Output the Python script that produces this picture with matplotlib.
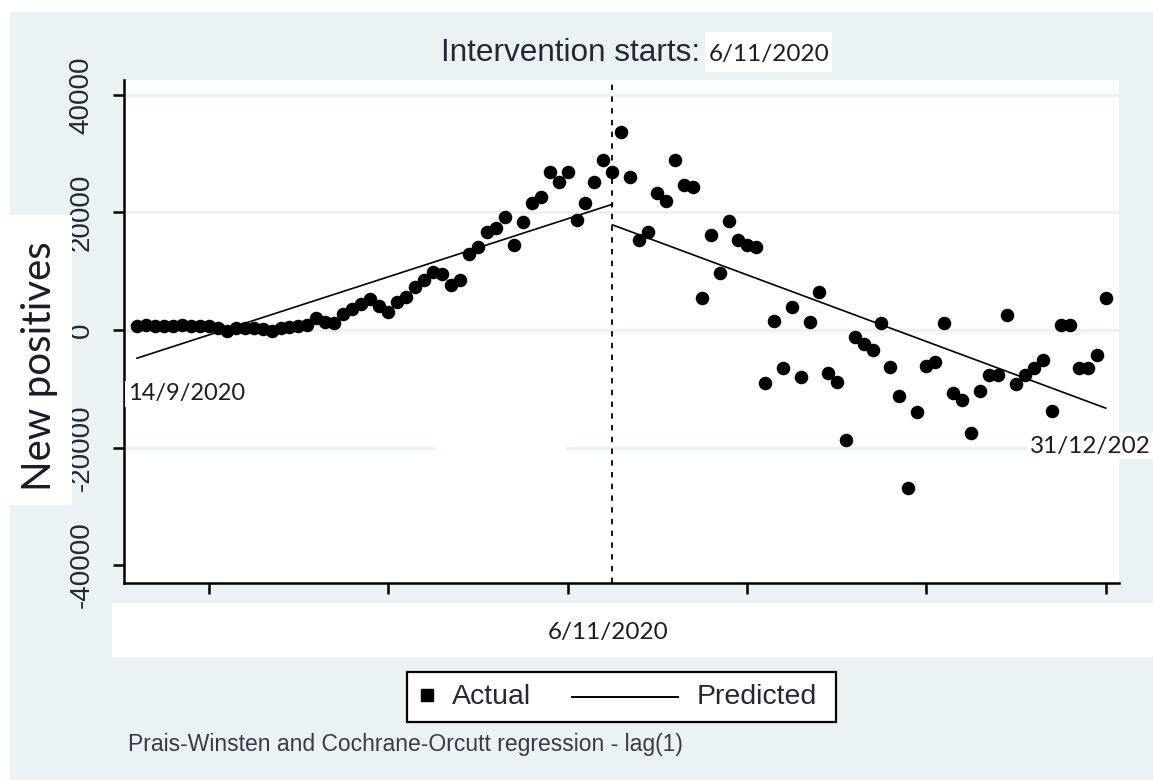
import numpy as np
import matplotlib.pyplot as plt
from matplotlib.patches import Rectangle
from matplotlib.lines import Line2D

# ---- data (day 0 = 14/9/2020, day 108 = 31/12/2020)
days = np.arange(0, 109)
actual = [
    600, 800, 700, 600, 700, 800, 700, 600, 700,            # 0-8
    300, -200, 300, 400, 300, 200,                          # 9-14
    -200, 400, 500, 700, 900,                               # 15-19
    2000, 1300, 1200, 2800, 3500, 4500, 5300, 4000, 3100,    # 20-28
    4800, 5600, 7300, 8500, 9900, 9500, 7700, 8500,          # 29-36
    13000, 14200, 16700, 17300, 19300, 14500, 18400,         # 37-43
    21600, 22700, 26900, 25200, 26900, 18700, 21600,         # 44-50
    25200, 28900, 26900,                                     # 51-53
    33700, 26000, 15300, 16700, 23300, 22000, 28900,         # 54-60
    24700, 24300, 5400, 16200, 9700, 18600, 15300,           # 61-67
    14500, 14100, -9000, 1500, -6500, 3900, -8000,           # 68-74
    1400, 6500, -7300, -8800, -18700, -1200, -2300,          # 75-81
    -3400, 1200, -6300, -11200, -26900, -14000, -6100,       # 82-88
    -5400, 1200, -10700, -11900, -17500, -10400, -7700,      # 89-95
    -7700, 2600, -9200, -7700, -6500, -5100, -13800,         # 96-102
    900, 900, -6500, -6500, -4300, 5400,                     # 103-108
]
pred_pre_days = [0, 53]
pred_pre = [-4800, 21400]
pred_post_days = [53, 108]
pred_post = [17900, -13300]
interv_day = 53

yticks = [-40000, -20000, 0, 20000, 40000]
xticks = [8, 28, 48, 68, 88, 108]
grid_vals = [40000, 20000, 0]

W, H = 1153, 783
bg = '#eaf2f3'
stata_txt = '#262636'
stata_font = ['Liberation Sans', 'DejaVu Sans']
word_font = ['Lato', 'DejaVu Sans']


def fx(px):
    return px / W


def fy(py):
    return 1 - py / H


fig = plt.figure(figsize=(W / 100, H / 100), dpi=100, facecolor='white')


def box(x0, y0, x1, y1, color='white', z=1):
    fig.add_artist(Rectangle((fx(x0), fy(y1)), (x1 - x0) / W, (y1 - y0) / H,
                             transform=fig.transFigure, facecolor=color,
                             edgecolor='none', zorder=z))


# outer stata panel
box(10, 12, W, 780, color=bg, z=-5)

ax = fig.add_axes([fx(124), fy(583), (1119 - 124) / W, (583 - 80) / H])
ax.set_facecolor('white')
ax.set_xlim(-1.45, 109.48)
ax.set_ylim(-43060, 42550)

for v in grid_vals:
    ax.axhline(v, color=bg, lw=2.2, zorder=0)
ax.hlines(-20000, -1.45, -1.45 + 0.3126 * 110.93, color=bg, lw=2.2, zorder=0)
ax.hlines(-20000, -1.45 + 0.4432 * 110.93, 109.48, color=bg, lw=2.2, zorder=0)

ax.scatter(days, actual, s=95, c='black', marker='o', linewidths=0, zorder=3)
ax.plot(pred_pre_days, pred_pre, color='black', lw=1.2, zorder=2)
ax.plot(pred_post_days, pred_post, color='black', lw=1.2, zorder=2)
ax.axvline(interv_day, color='black', lw=1.3, ls=(0, (3, 3.5)), zorder=2)

for s in ['top', 'right']:
    ax.spines[s].set_visible(False)
for s in ['left', 'bottom']:
    ax.spines[s].set_linewidth(1.8)

ax.set_yticks(yticks)
ax.set_yticklabels([str(v) for v in yticks], fontsize=20, family=stata_font,
                   color=stata_txt, rotation=90, va='center')
ax.set_xticks(xticks)
ax.set_xticklabels([])
ax.tick_params(axis='both', direction='out', length=8, width=1.8, color='black')
ax.tick_params(axis='y', pad=13)

# y label on a pasted white box
box(10, 215, 72, 505)
fig.text(fx(40), fy(366), 'New positives', rotation=90, ha='center', va='center',
         fontsize=29, family=word_font, color='#1c1c28', zorder=2)

# x label box
box(112, 603, W, 657)
fig.text(fx(608), fy(632), '6/11/2020', ha='center', va='center',
         fontsize=17.5, family=word_font, color='#1c1c28', zorder=2)

# title
fig.text(fx(700), fy(53), 'Intervention starts:', ha='right', va='center',
         fontsize=22.7, family=stata_font, color=stata_txt)
box(705, 32, 832, 72)
fig.text(fx(769), fy(54), '6/11/2020', ha='center', va='center',
         fontsize=17.5, family=word_font, color='#1c1c28', zorder=2)

# date annotations
fig.text(fx(128), fy(394), '14/9/2020', ha='left', va='center', fontsize=17,
         family=word_font, color='#1c1c28', zorder=5,
         bbox=dict(facecolor='white', edgecolor='none', pad=2))
fig.text(fx(1030), fy(446), '31/12/202', ha='left', va='center', fontsize=17.5,
         family=word_font, color='#1c1c28', zorder=5,
         bbox=dict(facecolor='white', edgecolor='none', pad=2))

# legend
fig.add_artist(Rectangle((fx(407), fy(722)), (836 - 407) / W, (722 - 672) / H,
                         transform=fig.transFigure, facecolor='white',
                         edgecolor='black', lw=1.6, zorder=3))
fig.add_artist(Line2D([fx(427)], [fy(695)], marker='s', markersize=8,
                      color='black', lw=0, transform=fig.transFigure, zorder=4))
fig.text(fx(452), fy(697), 'Actual', ha='left', va='center', fontsize=20.5,
         family=stata_font, color=stata_txt, zorder=4)
fig.add_artist(Line2D([fx(572), fx(678)], [fy(697), fy(697)], color='black',
                      lw=1.4, transform=fig.transFigure, zorder=4))
fig.text(fx(697), fy(697), 'Predicted', ha='left', va='center', fontsize=20.5,
         family=stata_font, color=stata_txt, zorder=4)

fig.text(fx(128), fy(745), 'Prais-Winsten and Cochrane-Orcutt regression - lag(1)',
         ha='left', va='center', fontsize=16.5, family=stata_font, color='#3a3a48')

fig.savefig('out.png', dpi=100, facecolor='white')
